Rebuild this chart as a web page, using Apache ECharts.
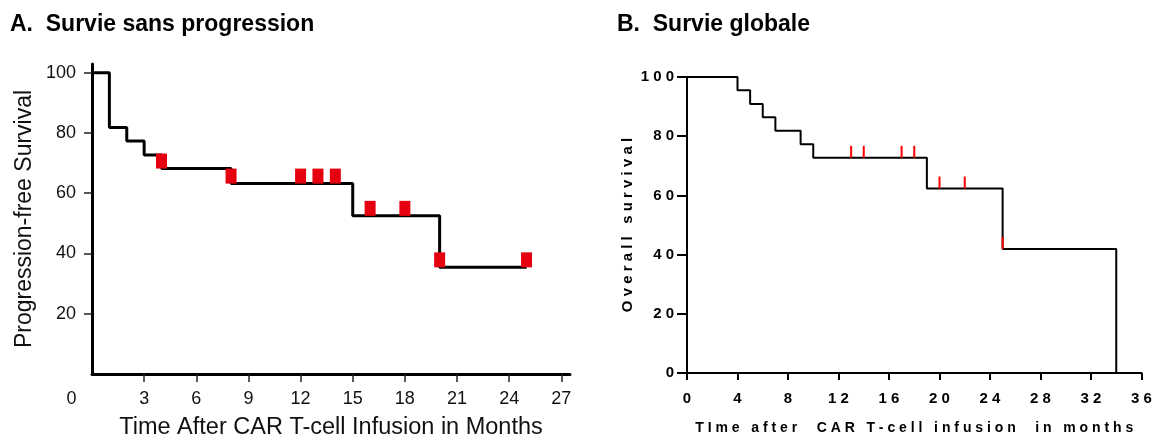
<!DOCTYPE html>
<html>
<head>
<meta charset="utf-8">
<title>Survie</title>
<script src="https://cdn.jsdelivr.net/npm/echarts@6/dist/echarts.min.js"></script>
<style>
    html, body { margin: 0; padding: 0; background: #fff; }
    #chart { width: 1153px; height: 441px; }
</style>
</head>
<body>
<div id="chart"></div>
<script>
// A. progression-free survival (Kaplan-Meier steps, months / %)
var pfsSteps = [[0, 100], [1, 81.8], [2, 77.3], [3, 72.7], [4, 68.2], [8, 63.2], [15, 52.5], [20, 35.4], [25, 35.4]];
var pfsCensored = [[4, 68.2], [8, 63.2], [12, 63.2], [13, 63.2], [14, 63.2], [16, 52.5], [18, 52.5], [20, 35.4], [25, 35.4]];
var pfsXLabels = [0, 3, 6, 9, 12, 15, 18, 21, 24, 27];
var pfsXTicks = [3, 6, 9, 12, 15, 18, 21, 24, 27];
var pfsYLabels = [20, 40, 60, 80, 100];

// B. overall survival
var osSteps = [[0, 100], [4, 95.5], [5, 90.9], [6, 86.4], [7, 81.8], [9, 77.3], [10, 72.7], [19, 62.3], [25, 41.9], [34, 0]];
var osCensored = [[13, 72.7], [14, 72.7], [17, 72.7], [18, 72.7], [20, 62.3], [22, 62.3], [25, 41.9]];
var osXLabels = [0, 4, 8, 12, 16, 20, 24, 28, 32, 36];
var osYLabels = [0, 20, 40, 60, 80, 100];

var FONT = 'Liberation Sans, Arial, sans-serif';

// the right panel uses wide letter spacing
function spaced(s) {
    return String(s).split('').join(' ');
}

var chart = echarts.init(document.getElementById('chart'));

chart.setOption({
    animation: false,
    backgroundColor: '#fff',
    title: [
        { text: 'A.  Survie sans progression', left: 10, top: 13, padding: 0,
          textStyle: { fontFamily: FONT, fontSize: 23, fontWeight: 'bold', color: '#000' } },
        { text: 'B.  Survie globale', left: 617, top: 13, padding: 0,
          textStyle: { fontFamily: FONT, fontSize: 23, fontWeight: 'bold', color: '#000' } }
    ],
    grid: [
        { left: 92, top: 64, width: 478, height: 310, outerBoundsMode: 'none' },
        { left: 687, top: 77, width: 454.5, height: 296, outerBoundsMode: 'none' }
    ],
    xAxis: [
        {
            gridIndex: 0, type: 'value', min: 0, max: 27.5,
            name: 'Time After CAR T-cell Infusion in Months',
            nameLocation: 'middle', nameGap: 42,
            nameTextStyle: { fontFamily: FONT, fontSize: 23.5, color: '#111' },
            axisLine: { onZero: false, lineStyle: { color: '#000', width: 3 } },
            axisTick: { customValues: pfsXTicks, length: 8, lineStyle: { color: '#222', width: 1.5 } },
            axisLabel: {
                customValues: pfsXLabels, margin: 16,
                fontFamily: FONT, fontSize: 18, color: '#111',
                formatter: function (v) { return v === 0 ? '{z|0}' : String(v); },
                rich: { z: { fontFamily: FONT, fontSize: 18, color: '#111', padding: [0, 41, 0, 0] } }
            },
            splitLine: { show: false }
        },
        {
            gridIndex: 1, type: 'value', min: 0, max: 36,
            name: spaced('TIme after  CAR T-cell infusion  in months'),
            nameLocation: 'middle', nameGap: 48,
            nameTextStyle: { fontFamily: FONT, fontSize: 14, fontWeight: 'bold', color: '#000' },
            axisLine: { onZero: false, lineStyle: { color: '#000', width: 2 } },
            axisTick: { customValues: osXLabels, length: 7, lineStyle: { color: '#000', width: 2 } },
            axisLabel: {
                customValues: osXLabels, margin: 18,
                fontFamily: FONT, fontSize: 15, fontWeight: 'bold', color: '#000',
                formatter: spaced
            },
            splitLine: { show: false }
        }
    ],
    yAxis: [
        {
            gridIndex: 0, type: 'value', min: 0, max: 102.9,
            name: 'Progression-free Survival',
            nameLocation: 'middle', nameGap: 56,
            nameTextStyle: { fontFamily: FONT, fontSize: 23, color: '#111' },
            axisLine: { show: true, onZero: false, lineStyle: { color: '#000', width: 3 } },
            axisTick: { show: true, customValues: pfsYLabels, length: 8, lineStyle: { color: '#222', width: 1.5 } },
            axisLabel: { customValues: pfsYLabels, margin: 16, fontFamily: FONT, fontSize: 18, color: '#111' },
            splitLine: { show: false }
        },
        {
            gridIndex: 1, type: 'value', min: 0, max: 100,
            name: spaced('Overall survival'),
            nameLocation: 'middle', nameGap: 52,
            nameTextStyle: { fontFamily: FONT, fontSize: 15, fontWeight: 'bold', color: '#000' },
            axisLine: { show: true, onZero: false, lineStyle: { color: '#000', width: 2 } },
            axisTick: { show: true, customValues: osYLabels, length: 10, lineStyle: { color: '#000', width: 2 } },
            axisLabel: {
                customValues: osYLabels, margin: 13,
                fontFamily: FONT, fontSize: 15, fontWeight: 'bold', color: '#000',
                formatter: spaced
            },
            splitLine: { show: false }
        }
    ],
    series: [
        {
            type: 'line', xAxisIndex: 0, yAxisIndex: 0, step: 'end',
            data: pfsSteps, showSymbol: false, silent: true,
            lineStyle: { color: '#000', width: 3 }
        },
        {
            type: 'scatter', xAxisIndex: 0, yAxisIndex: 0,
            data: pfsCensored, symbol: 'rect', symbolSize: [11, 15], symbolOffset: [0, '-50%'],
            itemStyle: { color: '#e6000f', opacity: 1 }, z: 3
        },
        {
            type: 'line', xAxisIndex: 1, yAxisIndex: 1, step: 'end',
            data: osSteps, showSymbol: false, silent: true,
            lineStyle: { color: '#000', width: 2 }
        },
        {
            type: 'scatter', xAxisIndex: 1, yAxisIndex: 1,
            data: osCensored, symbol: 'rect', symbolSize: [2, 12], symbolOffset: [0, '-50%'],
            itemStyle: { color: '#ff0000', opacity: 1 }, z: 3
        }
    ]
});

window.addEventListener('resize', chart.resize);
</script>
</body>
</html>
